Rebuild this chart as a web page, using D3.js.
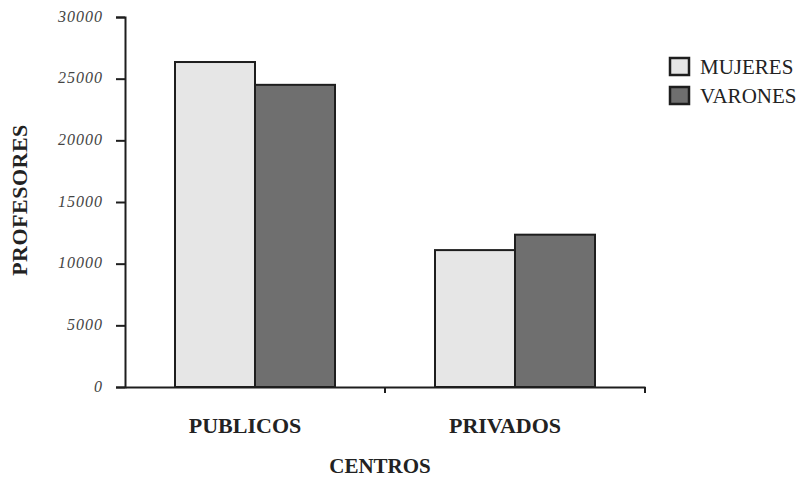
<!DOCTYPE html>
<html><head><meta charset="utf-8">
<script src="https://cdn.jsdelivr.net/npm/d3@7"></script>
<style>body{margin:0;background:#fff}svg{display:block}</style>
</head><body>
<script>
const categories = ["PUBLICOS", "PRIVADOS"];
const seriesNames = ["MUJERES", "VARONES"];
const mujeres = [26350, 11100];
const varones = [24500, 12350];
const yTicks = [0, 5000, 10000, 15000, 20000, 25000, 30000];
const colors = ["#e6e6e6", "#6f6f6f"];

const W = 806, H = 477;
const svg = d3.select("body").append("svg").attr("width", W).attr("height", H);
const x0 = d3.scaleBand().domain(categories).range([125, 645]).paddingInner(0).paddingOuter(0);
const x1 = d3.scaleBand().domain(seriesNames).range([0, 160]);
const y = d3.scaleLinear().domain([0, 30000]).range([387, 17]);
const data = categories.map((c, i) => ({cat: c, vals: [mujeres[i], varones[i]]}));
const serif = "'Liberation Serif', 'DejaVu Serif', serif";

// bars
const g = svg.append("g");
data.forEach(d => {
  const bx = x0(d.cat) + x0.bandwidth() / 2 - 80;
  d.vals.forEach((v, j) => {
    g.append("rect")
      .attr("x", bx + x1(seriesNames[j]))
      .attr("y", y(v))
      .attr("width", x1.bandwidth())
      .attr("height", y(0) - y(v))
      .attr("fill", colors[j])
      .attr("stroke", "#1e1e1e")
      .attr("stroke-width", 2);
  });
});

// y axis
const ya = svg.append("g").attr("transform", "translate(125,0)")
  .call(d3.axisLeft(y).tickValues(yTicks).tickSize(9).tickPadding(13).tickFormat(d3.format("d")));
ya.select(".domain").attr("stroke", "#1e1e1e").attr("stroke-width", 2);
ya.selectAll(".tick line").attr("stroke", "#1e1e1e").attr("stroke-width", 2);
ya.selectAll("text").attr("font-family", serif).attr("font-style", "italic")
  .attr("font-size", 16).attr("letter-spacing", 1).attr("fill", "#444").attr("dy", "0.25em");

// x axis
const xa = svg.append("g").attr("transform", "translate(0,387)")
  .call(d3.axisBottom(x0).tickSize(0).tickPadding(0));
xa.select(".domain").attr("stroke", "#1e1e1e").attr("stroke-width", 2);
xa.selectAll("text").attr("font-family", serif).attr("font-weight", "bold")
  .attr("font-size", 22).attr("fill", "#222").attr("dy", 0).attr("y", 46)
  .attr("dx", -10);
// x tick marks at band boundaries
[385, 645].forEach(px => {
  svg.append("line").attr("x1", px).attr("x2", px).attr("y1", 387).attr("y2", 393)
    .attr("stroke", "#1e1e1e").attr("stroke-width", 2);
});

// axis titles
svg.append("text").attr("x", 380).attr("y", 473).attr("text-anchor", "middle")
  .attr("font-family", serif).attr("font-weight", "bold").attr("font-size", 21)
  .attr("fill", "#222").text("CENTROS");
svg.append("text").attr("transform", "translate(27,200) rotate(-90)").attr("text-anchor", "middle")
  .attr("font-family", serif).attr("font-weight", "bold").attr("font-size", 22)
  .attr("letter-spacing", 0.5).attr("fill", "#222").text("PROFESORES");

// legend
const lg = svg.append("g").attr("transform", "translate(670,58)");
seriesNames.forEach((s, j) => {
  lg.append("rect").attr("x", 0).attr("y", j * 29).attr("width", 19).attr("height", 17)
    .attr("fill", colors[j]).attr("stroke", "#1e1e1e").attr("stroke-width", 2.5);
  lg.append("text").attr("x", 30).attr("y", j * 29 + 16)
    .attr("font-family", serif).attr("font-size", 21).attr("fill", "#222")
    .text(s);
});
</script>
</body></html>
